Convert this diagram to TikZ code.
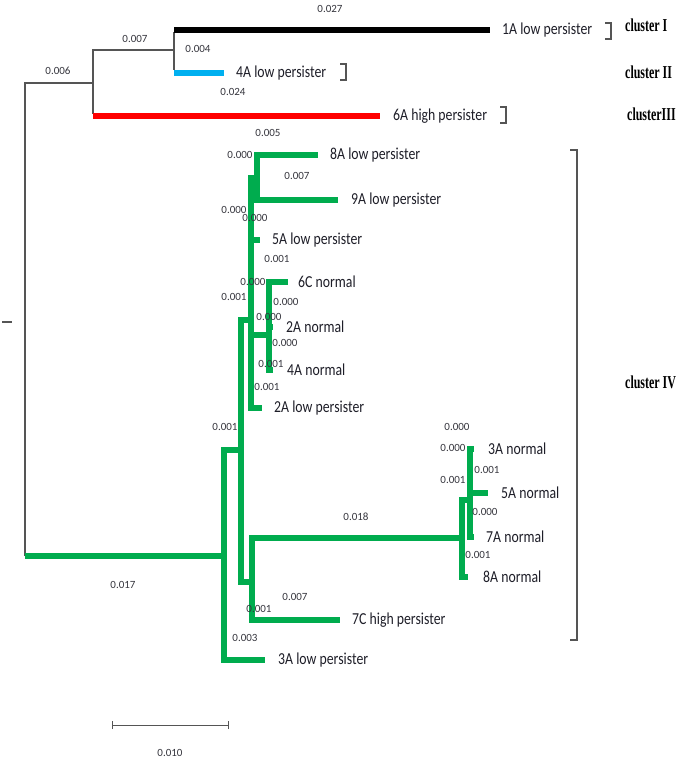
\documentclass[tikz,border=0pt]{standalone}
\usepackage{fontspec}
\setmainfont{Carlito}
\newfontfamily\clufont{Liberation Serif}
\usetikzlibrary{positioning}
\definecolor{treegreen}{RGB}{0,172,78}
\definecolor{treeblue}{RGB}{0,176,240}
\definecolor{treered}{RGB}{255,0,0}
\definecolor{treegray}{RGB}{85,85,85}
\definecolor{txtgray}{RGB}{30,30,40}
\newcommand{\tallt}[1]{\scalebox{0.97}[1.18]{#1}}
\newcommand{\tallc}[1]{\scalebox{0.92}[1.4]{#1}}

\begin{document}
\begin{tikzpicture}[x=1pt,y=-1pt,
 gline/.style={draw=treegray,line width=1.3pt},
 gbr/.style={draw=treegreen,line width=5.5pt},
 kbr/.style={draw=black,line width=5.5pt},
 bbr/.style={draw=treeblue,line width=5.5pt},
 rbr/.style={draw=treered,line width=5.5pt},
 brk/.style={draw=treegray,line width=1.2pt},
 leaf/.style={inner sep=0pt,anchor=west,text=txtgray,font=\fontsize{14.2}{16}\selectfont},
 blen/.style={inner sep=0pt,text=txtgray!90,font=\fontsize{11}{12}\selectfont},
 clu/.style={inner sep=0pt,anchor=west,font=\clufont\bfseries\fontsize{13}{15}\selectfont}]
 \useasboundingbox (0,0) rectangle (680,760);
 % inner nodes and tips
 \coordinate (stub) at (2,322); \coordinate (rt) at (25,322);
 \coordinate (u1) at (93,83); \coordinate (u2) at (174,50);
 \coordinate (t1A) at (490,30); \coordinate (t4Alp) at (224,73); \coordinate (t6A) at (380,116);
 \coordinate (nA) at (224,556); \coordinate (nB) at (241,450); \coordinate (nC) at (252,582);
 \coordinate (nQ) at (251,320); \coordinate (nD) at (257,178); \coordinate (nG) at (269,335);
 \coordinate (n1) at (462,538); \coordinate (n2) at (470,500);
 \coordinate (t8Alp) at (318,155); \coordinate (t9Alp) at (338,200); \coordinate (t5Alp) at (260,240);
 \coordinate (t6C) at (288,282); \coordinate (t2An) at (273,327); \coordinate (t4An) at (273,370);
 \coordinate (t2Alp) at (262,408); \coordinate (t3Alp) at (265,660); \coordinate (t7C) at (340,620);
 \coordinate (t3An) at (474,449); \coordinate (t5An) at (488,493); \coordinate (t7An) at (474,537);
 \coordinate (t8An) at (468,577);
 % upper clusters
 \draw[gline] (stub) -- ++(10,0);
 \draw[gline] (rt) |- (u1); \draw[gline] (u1) |- (u2);
 \draw[gline] (u2) -- ([yshift=-2.5pt]u2 |- t1A); \draw[gline] (u2) -- ([yshift=2.5pt]u2 |- t4Alp);
 \draw[gline] (u1) -- ([yshift=2.5pt]u1 |- t6A);
 \draw[kbr] (u2 |- t1A) -- (t1A); \draw[bbr] (u2 |- t4Alp) -- (t4Alp); \draw[rbr] (u1 |- t6A) -- (t6A);
 % cluster IV
 \draw[gline] (rt) -- (rt |- nA);
 \draw[gbr] (rt |- nA) -- (nA);
 \draw[gbr] (nA) |- (nB); \draw[gbr] (nA) |- (t3Alp);
 \draw[gbr] (nB) |- (nQ); \draw[gbr] (nB) |- (nC);
 \draw[gbr] (nC) |- (n1); \draw[gbr] (nC) |- (t7C);
 \draw[gbr] (n1) |- (n2); \draw[gbr] (n1) |- (t8An);
 \draw[gbr] (n2) |- (t3An); \draw[gbr] (n2) |- (t5An); \draw[gbr] (n2) |- (t7An);
 \draw[gbr] (nQ) |- (nD); \draw[gbr] (nQ) |- (t5Alp); \draw[gbr] (nQ) |- (nG); \draw[gbr] (nQ) |- (t2Alp);
 \draw[gbr] (nD) |- (t8Alp); \draw[gbr] (nD) |- (t9Alp);
 \draw[gbr] (nG) |- (t6C); \draw[gbr] (nG) |- (t2An); \draw[gbr] (nG) |- (t4An);
 % leaf names
 \node[leaf,right=12pt of t1A] (l1A) {\tallt{1A low persister}};
 \node[leaf,right=12pt of t4Alp] (l4Alp) {\tallt{4A low persister}};
 \node[leaf,right=13pt of t6A] (l6A) {\tallt{6A high persister}};
 \node[leaf,right=12pt of t8Alp] (l8Alp) {\tallt{8A low persister}};
 \node[leaf,right=13pt of t9Alp] (l9Alp) {\tallt{9A low persister}};
 \node[leaf,right=12pt of t5Alp] (l5Alp) {\tallt{5A low persister}};
 \node[leaf,right=10pt of t6C] (l6C) {\tallt{6C normal}};
 \node[leaf,right=13pt of t2An] (l2An) {\tallt{2A normal}};
 \node[leaf,right=14pt of t4An] (l4An) {\tallt{4A normal}};
 \node[leaf,right=12pt of t2Alp] (l2Alp) {\tallt{2A low persister}};
 \node[leaf,right=13pt of t3Alp] (l3Alp) {\tallt{3A low persister}};
 \node[leaf,right=12pt of t7C] (l7C) {\tallt{7C high persister}};
 \node[leaf,right=14pt of t3An] (l3An) {\tallt{3A normal}};
 \node[leaf,right=13pt of t5An] (l5An) {\tallt{5A normal}};
 \node[leaf,right=12pt of t7An] (l7An) {\tallt{7A normal}};
 \node[leaf,right=15pt of t8An] (l8An) {\tallt{8A normal}};
 % branch lengths
 \node[blen] (b1) at (330,9) {0.027}; \node[blen] (b2) at (135,39) {0.007}; \node[blen] (b3) at (58,71) {0.006};
 \node[blen] (b4) at (198,49) {0.004}; \node[blen] (b5) at (233,92) {0.024}; \node[blen] (b6) at (268,133) {0.005};
 \node[blen] (b7) at (240,155) {0.000}; \node[blen] (b8) at (297,176) {0.007}; \node[blen] (b9) at (234,210) {0.000};
 \node[blen] (b10) at (255,218) {0.000}; \node[blen] (b11) at (277,259) {0.001}; \node[blen] (b12) at (253,282) {0.000};
 \node[blen] (b13) at (234,297) {0.001}; \node[blen] (b14) at (286,302) {0.000}; \node[blen] (b15) at (269,317) {0.000};
 \node[blen] (b16) at (285,343) {0.000}; \node[blen] (b17) at (271,364) {0.001}; \node[blen] (b18) at (267,387) {0.001};
 \node[blen] (b19) at (225,427) {0.001}; \node[blen] (b20) at (123,585) {0.017}; \node[blen] (b21) at (356,517) {0.018};
 \node[blen] (b22) at (295,597) {0.007}; \node[blen] (b23) at (259,609) {0.001}; \node[blen] (b24) at (245,638) {0.003};
 \node[blen] (b25) at (457,427) {0.000}; \node[blen] (b26) at (453,448) {0.000}; \node[blen] (b27) at (487,470) {0.001};
 \node[blen] (b28) at (453,480) {0.001}; \node[blen] (b29) at (485,512) {0.000}; \node[blen] (b30) at (478,555) {0.001};
 % cluster brackets and names
 \draw[brk] (605,23) -- (611,23) -- (611,39) -- (605,39);
 \draw[brk] (340,64) -- (346,64) -- (346,80) -- (340,80);
 \draw[brk] (500,107) -- (506,107) -- (506,123) -- (500,123);
 \draw[brk] (570,150) -- (577,150) -- (577,640) -- (570,640);
 \node[clu] (c1) at (625,25) {\tallc{cluster I}};
 \node[clu] (c2) at (625,72) {\tallc{cluster II}};
 \node[clu] (c3) at (627,114) {\tallc{clusterIII}};
 \node[clu] (c4) at (625,382) {\tallc{cluster IV}};
 % scale bar
 \coordinate (sb1) at (112,725); \coordinate (sb2) at (228,725);
 \draw[gline,line width=1pt] (sb1) -- (sb2);
 \draw[gline,line width=1pt] ([yshift=-4pt]sb1) -- ([yshift=4pt]sb1);
 \draw[gline,line width=1pt] ([yshift=-4pt]sb2) -- ([yshift=4pt]sb2);
 \node[blen] (sbl) at (170,753) {0.010};
\end{tikzpicture}
\end{document}
